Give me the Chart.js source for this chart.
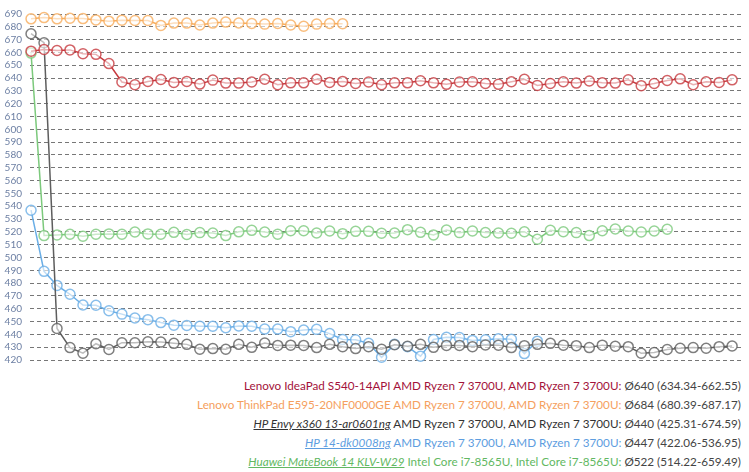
<!DOCTYPE html>
<html>
<head>
<meta charset="utf-8">
<script src="https://cdn.jsdelivr.net/npm/chart.js@4.4.0/dist/chart.umd.min.js"></script>
<style>
  body { margin: 0; background: #fff; width: 749px; height: 472px; overflow: hidden; }
  #wrap { position: relative; width: 749px; height: 374px; }
  #legend { font-family: Lato, "Open Sans", sans-serif; font-size: 11.7px; text-align: right; padding-right: 8px; padding-top: 2px; color: #444; }
  #legend div { height: 19.1px; line-height: 19.1px; overflow: hidden; white-space: nowrap; }
  #legend .dev { font-style: italic; text-decoration: underline; }
</style>
</head>
<body>
<div id="wrap"><canvas id="chart"></canvas></div>
<div id="legend"></div>
<script>
const yTicks = [420, 430, 440, 450, 460, 470, 480, 490, 500, 510, 520, 530, 540, 550, 560, 570, 580, 590, 600, 610, 620, 630, 640, 650, 660, 670, 680, 690];

const ideapad = [661, 662.3, 661.5, 662, 659, 658.5, 651.3, 636.9, 634.8, 637.4, 638.9, 636.6, 637.4, 635.3, 638.4, 636.1, 636.1,
  636.9, 639.1, 634.8, 636.3, 636.3, 639.1, 636.6, 637.4, 635.8, 636.9, 634.8, 636.3, 636.3, 637.9, 636.3, 635.1, 636.9, 637.1,
  635.8, 635.1, 637.1, 639.1, 634.3, 635.8, 637.1, 636.1, 637.7, 636.3, 636.1, 638.6, 634.1, 635.8, 638.1, 639.4, 634.8, 637.1, 636.6, 638.6];
const thinkpad = [686.2, 687.2, 686.2, 686.7, 686.4, 685.4, 684.4, 685.2, 684.9, 684.9, 681.1, 682.9, 682.9, 681.4, 682.9, 683.7, 683,
  682.6, 682.1, 682.6, 681.4, 680.4, 682.1, 682.6, 682.4];
const envy = [674.6, 667.6, 444.6, 429.7, 425.3, 432.7, 428.2, 433.5, 433.5, 434.2, 434, 433, 432.2, 428.4, 428.9, 428.4, 432.2,
  429.9, 433.2, 431.4, 431.6, 431.4, 429.7, 432.2, 430.4, 428.9, 430.4, 428.4, 431.9, 430.7, 432.2, 429.9, 431.4, 431.4, 430.4,
  431.8, 431.6, 429.7, 431.2, 432.2, 433, 431.6, 431.2, 429.7, 431.6, 430.7, 430.4, 425.3, 425.8, 428.2, 429.2, 429.7, 429.2, 430.4, 430.9];
const hp14 = [536.9, 489.2, 478.2, 471.3, 462.9, 462.7, 458.4, 455.8, 452.8, 451.5, 449.2, 447.2, 447, 446.4, 446.4, 445.2, 446.6,
  446.4, 444.1, 444.1, 442.1, 443.4, 443.9, 440.6, 436, 435.8, 433, 422.1, 432.2, 430.4, 423, 436, 437.7, 437.5, 435.3,
  435.8, 436.5, 436.2, 425, 434.7];
const matebook = [659.5, 517.1, 517.6, 518.1, 516.6, 518.1, 518.4, 518.1, 519.9, 518.4, 518.1, 519.6, 517.9, 519.4, 519.1, 517.1, 520,
  521.2, 519.9, 518.1, 520.9, 520.9, 519.1, 520.7, 518.6, 520.4, 520.4, 518.9, 519.1, 521.7, 519.6, 517.6, 521.4, 519.4, 520.7,
  519.5, 519.1, 518.9, 520.1, 514.2, 521.2, 520.1, 519.4, 517.1, 520.9, 522.2, 520.7, 519.9, 520.7, 522];

const names = ['Lenovo IdeaPad S540-14API', 'Lenovo ThinkPad E595-20NF0000GE', 'HP Envy x360 13-ar0601ng', 'HP 14-dk0008ng', 'Huawei MateBook 14 KLV-W29'];
const cpus = ['AMD Ryzen 7 3700U, AMD Ryzen 7 3700U:', 'AMD Ryzen 7 3700U, AMD Ryzen 7 3700U:', 'AMD Ryzen 7 3700U, AMD Ryzen 7 3700U:',
  'AMD Ryzen 7 3700U, AMD Ryzen 7 3700U:', 'Intel Core i7-8565U, Intel Core i7-8565U:'];
const stats = ['Ø640 (634.34-662.55)', 'Ø684 (680.39-687.17)', 'Ø440 (425.31-674.59)', 'Ø447 (422.06-536.95)', 'Ø522 (514.22-659.49)'];
const underlined = [false, false, true, true, true];
const lineColors = ['#c73a3f', '#f7ac5c', '#5e5e5e', '#6aaee6', '#7cc97c'];
const textColors = ['#a3123a', '#f5a05e', '#333333', '#5d9de0', '#62b862'];

const series = [ideapad, thinkpad, envy, hp14, matebook];

function toPoints(arr) {
  return arr.map((v, i) => ({ x: i, y: v }));
}

const datasets = series.map((s, k) => ({
  label: names[k],
  data: toPoints(s),
  borderColor: lineColors[k],
  borderWidth: 1.5,
  pointRadius: 5,
  pointBorderWidth: 1.5,
  pointBorderColor: lineColors[k] + 'cc',
  pointBackgroundColor: 'rgba(255,255,255,0.6)',
  tension: 0,
  clip: false
}));

new Chart(document.getElementById('chart'), {
  type: 'line',
  data: { datasets },
  options: {
    responsive: true,
    maintainAspectRatio: false,
    animation: false,
    layout: { padding: { top: 11, bottom: 9, left: 0, right: 0 } },
    plugins: { legend: { display: false }, tooltip: { enabled: false } },
    scales: {
      x: { type: 'linear', min: -0.08, max: 54.8, display: false },
      y: {
        min: 420, max: 690,
        afterBuildTicks: (axis) => { axis.ticks = yTicks.map(v => ({ value: v })); },
        afterFit: (axis) => { axis.width = 30; },
        border: { display: false, dash: [4, 3] },
        grid: { color: '#777', lineWidth: 1, drawTicks: false },
        ticks: { autoSkip: false, padding: 8, color: '#6c7fa3', font: { family: 'Lato, sans-serif', size: 10 } }
      }
    }
  }
});

const legend = document.getElementById('legend');
names.forEach((n, k) => {
  const row = document.createElement('div');
  row.innerHTML = `<span class="${underlined[k] ? 'dev' : ''}" style="color:${textColors[k]}">${n}</span> ` +
    `<span style="color:${textColors[k]}">${cpus[k]}</span> <span style="color:#444">${stats[k]}</span>`;
  legend.appendChild(row);
});
</script>
</body>
</html>
